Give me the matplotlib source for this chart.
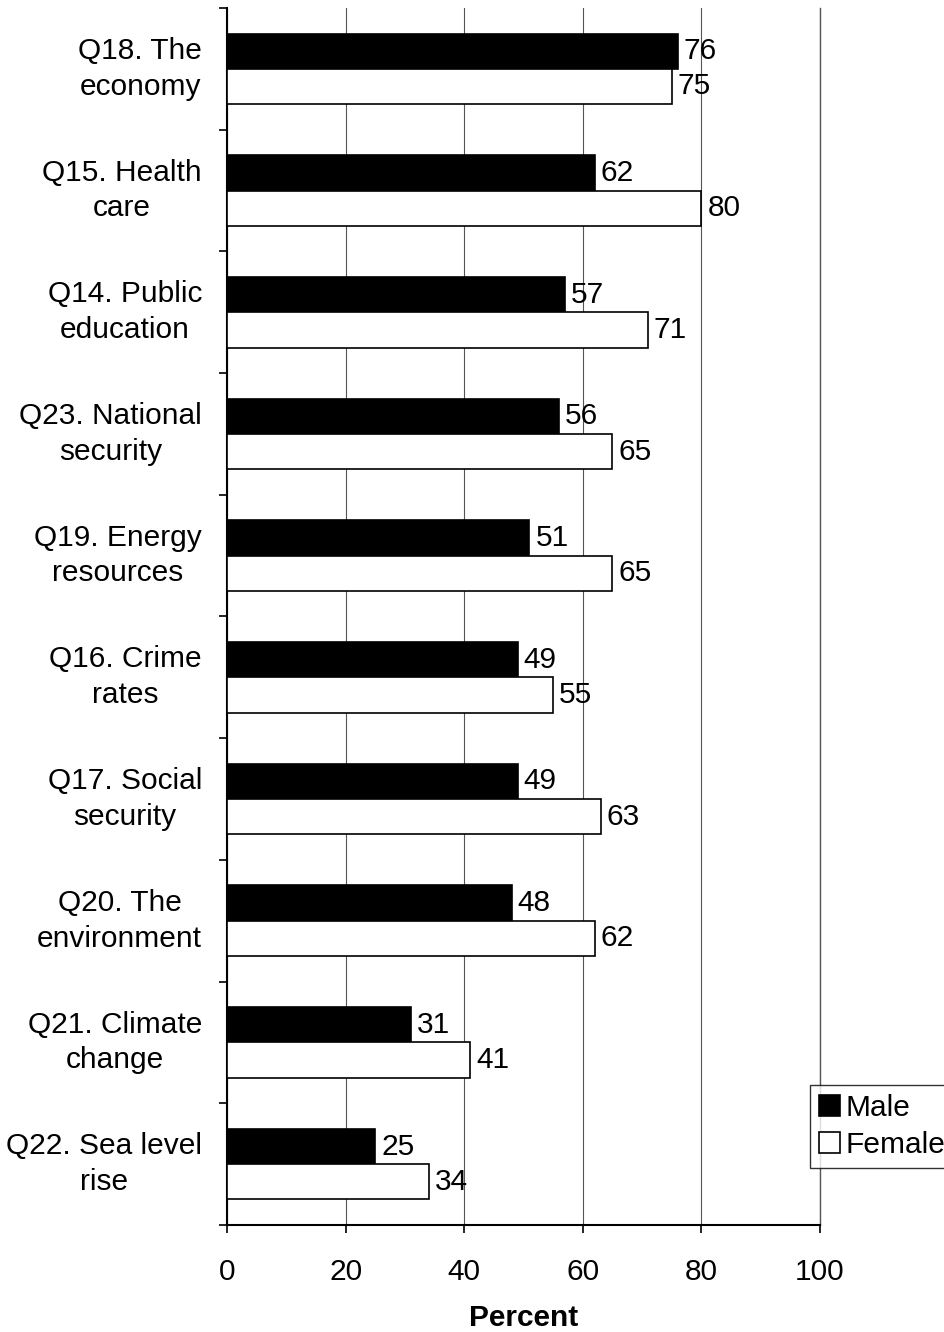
import matplotlib.pyplot as plt
import numpy as np

categories = ["Q18. The\neconomy", "Q15. Health\ncare", "Q14. Public\neducation",
              "Q23. National\nsecurity", "Q19. Energy\nresources", "Q16. Crime\nrates",
              "Q17. Social\nsecurity", "Q20. The\nenvironment", "Q21. Climate\nchange",
              "Q22. Sea level\nrise"]
male = [76, 62, 57, 56, 51, 49, 49, 48, 31, 25]
female = [75, 80, 71, 65, 65, 55, 63, 62, 41, 34]
xticks = [0, 20, 40, 60, 80, 100]

plt.rcParams['font.family'] = ['Liberation Sans', 'DejaVu Sans']
fs = 21.5

fig = plt.figure(figsize=(9.44, 13.32), dpi=100)
ax = fig.add_axes([227 / 944, 1 - 1225 / 1332, 593 / 944, 1217 / 1332])

y = np.arange(len(categories))
h = 0.29
ax.barh(y - h / 2, male, height=h, color='black', edgecolor='black', lw=1.2, label='Male', zorder=3)
ax.barh(y + h / 2, female, height=h, color='white', edgecolor='black', lw=1.2, label='Female', zorder=3)

for i in range(len(categories)):
    ax.text(male[i] + 1.0, y[i] - h / 2, str(male[i]), ha='left', va='center', fontsize=fs, zorder=4)
    ax.text(female[i] + 1.0, y[i] + h / 2, str(female[i]), ha='left', va='center', fontsize=fs, zorder=4)

ax.set_ylim(len(categories) - 0.5, -0.5)
ax.set_xlim(0, 100)
ax.set_yticks(y)
ax.set_yticklabels(categories, fontsize=fs, multialignment='center', linespacing=1.35, va='center')
ax.tick_params(axis='y', which='major', length=0, pad=18)
ax.set_yticks(np.arange(-0.5, len(categories)), minor=True)
ax.tick_params(axis='y', which='minor', length=6, width=1.2, direction='out')
ax.set_xticks(xticks)
ax.tick_params(axis='x', labelsize=fs, length=6, width=1.2, pad=18)
ax.set_xlabel("Percent", fontsize=fs, fontweight='bold', labelpad=13)

ax.grid(axis='x', color='#555555', lw=0.8, zorder=0)
ax.axvline(xticks[-1], color='#555555', lw=1.0, zorder=0, clip_on=False)
ax.spines['top'].set_visible(False)
ax.spines['right'].set_visible(False)
ax.spines['left'].set_linewidth(1.5)
ax.spines['bottom'].set_linewidth(1.5)

leg = fig.legend(loc='upper left', bbox_to_anchor=(810 / 944, 1 - 1085 / 1332), fontsize=fs,
                 frameon=True, fancybox=False, edgecolor='black', handlelength=0.7,
                 handleheight=0.7, handletextpad=0.2, borderpad=0.3, labelspacing=0.3,
                 borderaxespad=0)
leg.get_frame().set_linewidth(1.0)

fig.savefig("out.png", dpi=100)
